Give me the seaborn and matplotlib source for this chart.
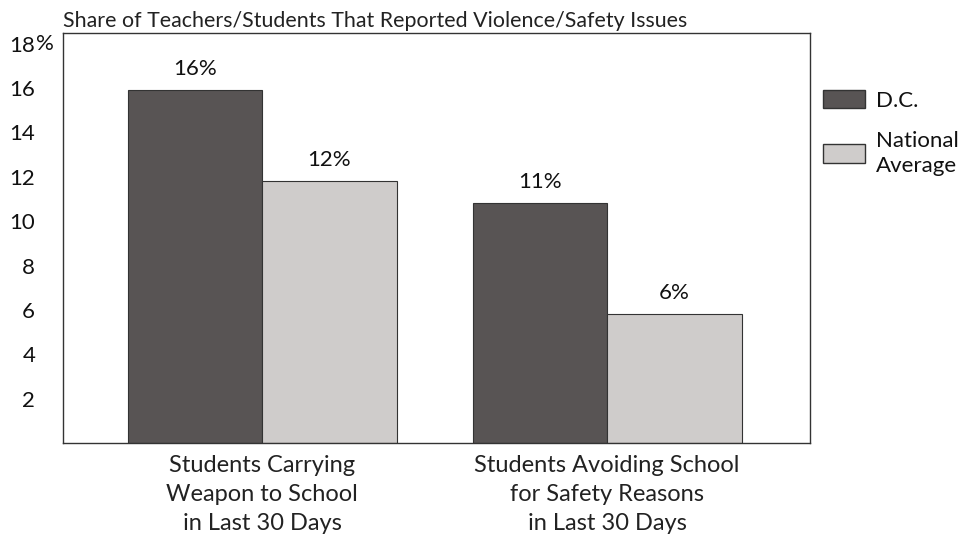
import matplotlib
matplotlib.use("Agg")
import matplotlib.pyplot as plt
import seaborn as sns
import pandas as pd
from matplotlib.patches import Patch
from matplotlib.transforms import offset_copy

categories = ["Students Carrying\nWeapon to School\nin Last 30 Days",
              "Students Avoiding School\nfor Safety Reasons\nin Last 30 Days"]
series_names = ["D.C.", "National\nAverage"]
dc_values = [15.9, 10.8]
national_values = [11.8, 5.8]
value_labels_dc = ["16%", "11%"]
value_labels_nat = ["12%", "6%"]
y_ticks = [2, 4, 6, 8, 10, 12, 14, 16, 18]
title = "Share of Teachers/Students That Reported Violence/Safety Issues"

colors = ["#585454", "#cfcccb"]

df = pd.DataFrame({
    "category": categories * 2,
    "series": [series_names[0]] * 2 + [series_names[1]] * 2,
    "value": dc_values + national_values,
})

sns.set_style("white")
plt.rcParams['font.family'] = ['Lato', 'DejaVu Sans']

fig = plt.figure(figsize=(9.72, 5.41), dpi=100)
ax = fig.add_axes([63/972, 1-443/541, (810-63)/972, (443-33)/541])

sns.barplot(data=df, x="category", y="value", hue="series",
            hue_order=series_names, order=categories,
            palette=colors, width=0.78, edgecolor="#333333", linewidth=0.8,
            legend=False, ax=ax, saturation=1)

ax.bar_label(ax.containers[0], labels=value_labels_dc, padding=8, fontsize=16, color="#111111")
ax.bar_label(ax.containers[1], labels=value_labels_nat, padding=8, fontsize=16, color="#111111")

ax.set_ylim(0, 18.48)
ax.set_xlim(-0.577, 1.588)
ax.set_yticks(y_ticks)
ax.set_yticklabels([str(t) for t in y_ticks], fontsize=16, color="#111111")
ax.tick_params(axis="y", direction="in", length=5, width=0.8, pad=20, color="#444444")
pct_tr = offset_copy(ax.get_yaxis_transform(), fig=fig, x=-27, y=0, units="dots")
ax.text(0, 18, "%", transform=pct_tr, ha="left", va="center", fontsize=16, color="#111111")
ax.tick_params(axis="x", length=0, pad=9, labelsize=17, labelcolor="#222222")
for lab in ax.get_xticklabels():
    lab.set_linespacing(1.45)
ax.set_xlabel("")
ax.set_ylabel("")

for s in ax.spines.values():
    s.set_visible(True)
    s.set_color("#333333")
    s.set_linewidth(1.0)

fig.text(63/972, 1-21/541, title, fontsize=15.4, color="#222222", va="center", ha="left")

handles = [Patch(facecolor=colors[0], edgecolor="#333333"),
           Patch(facecolor=colors[1], edgecolor="#333333")]
leg = fig.legend(handles, series_names, loc="upper left",
                 bbox_to_anchor=(823/972, 1-90/541), frameon=False,
                 fontsize=16, handlelength=1.9, handleheight=0.9,
                 handletextpad=0.5, labelspacing=0.9, borderpad=0,
                 borderaxespad=0)
for t in leg.get_texts():
    t.set_linespacing(1.3)
    t.set_color("#111111")

fig.savefig("out.png", dpi=100)
